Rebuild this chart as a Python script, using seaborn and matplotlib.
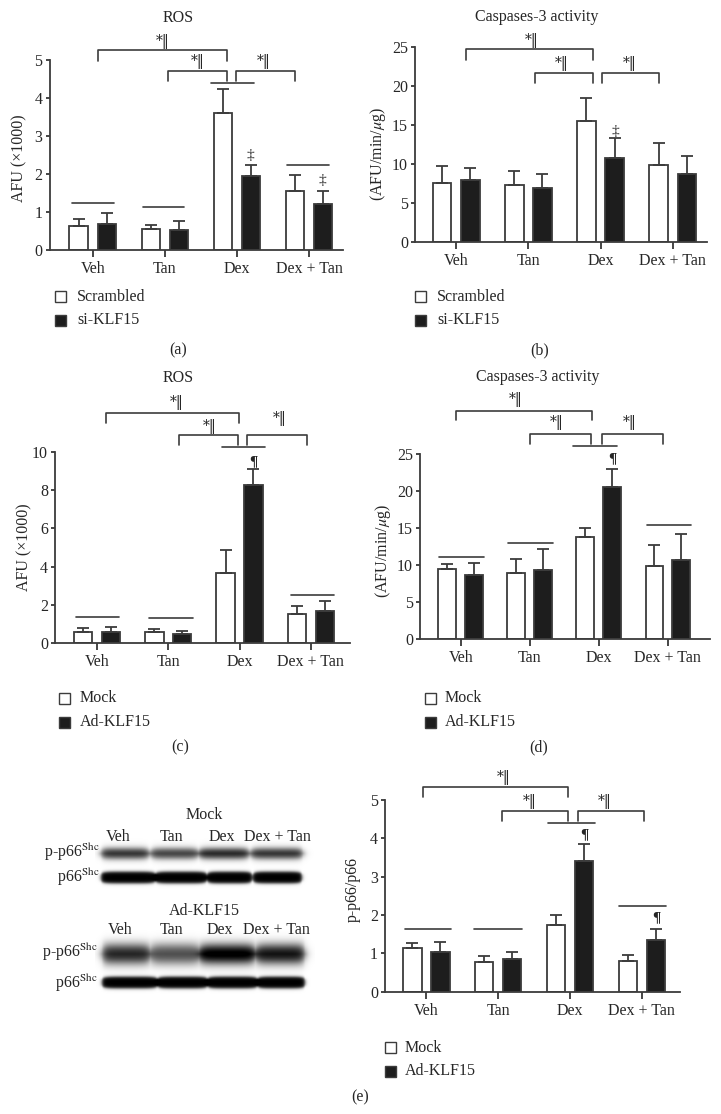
import numpy as np
import pandas as pd
import matplotlib
matplotlib.use("Agg")
import matplotlib.pyplot as plt
import seaborn as sns
from matplotlib.patches import Rectangle

# ---------------- data ----------------
categories = ["Veh", "Tan", "Dex", "Dex + Tan"]

# (a) ROS, siRNA experiment (AFU x1000)
a_scrambled = [0.63, 0.54, 3.60, 1.56]
a_scrambled_err = [0.19, 0.12, 0.64, 0.41]
a_siklf15 = [0.68, 0.53, 1.95, 1.21]
a_siklf15_err = [0.30, 0.24, 0.28, 0.34]

# (b) Caspase-3 activity, siRNA experiment
b_scrambled = [7.58, 7.28, 15.5, 9.84]
b_scrambled_err = [2.22, 1.88, 3.00, 2.89]
b_siklf15 = [8.00, 6.90, 10.73, 8.77]
b_siklf15_err = [1.45, 1.87, 2.64, 2.26]

# (c) ROS, overexpression experiment (AFU x1000)
c_mock = [0.57, 0.59, 3.69, 1.51]
c_mock_err = [0.21, 0.18, 1.18, 0.46]
c_adklf15 = [0.59, 0.49, 8.26, 1.69]
c_adklf15_err = [0.28, 0.15, 0.84, 0.51]

# (d) Caspase-3 activity, overexpression experiment
d_mock = [9.44, 8.90, 13.85, 9.89]
d_mock_err = [0.72, 1.98, 1.17, 2.83]
d_adklf15 = [8.63, 9.31, 20.6, 10.70]
d_adklf15_err = [1.62, 2.83, 2.42, 3.50]

# (e) p-p66/p66 ratio
e_mock = [1.13, 0.77, 1.73, 0.81]
e_mock_err = [0.13, 0.17, 0.27, 0.15]
e_adklf15 = [1.04, 0.85, 3.40, 1.34]
e_adklf15_err = [0.26, 0.18, 0.44, 0.29]

# western blot band intensities (0 = none, 1 = saturated)
blot_mock_pp66 = [0.85, 0.78, 0.90, 0.85]
blot_mock_p66 = [1.0, 1.0, 1.0, 1.0]
blot_ad_pp66 = [0.80, 0.62, 1.0, 0.88]
blot_ad_p66 = [1.0, 1.0, 1.0, 1.0]

# ---------------- style ----------------
sns.set_style("ticks")
plt.rcParams["font.family"] = ["Liberation Serif", "DejaVu Serif"]
plt.rcParams["mathtext.fontset"] = "stix"
INK = "#262626"
LINE = "#3c3c3c"
FS = 11.5

W, H = 721, 1114
fig = plt.figure(figsize=(W / 100, H / 100), dpi=100)


def px_axes(l, r, t, b):
    return fig.add_axes([l / W, 1 - b / H, (r - l) / W, (b - t) / H])


def ftext(x, y, s, **kw):
    kw.setdefault("ha", "center")
    kw.setdefault("va", "center")
    kw.setdefault("color", INK)
    kw.setdefault("fontsize", FS)
    return fig.text(x / W, 1 - y / H, s, **kw)


def legend_box(x, y, labels, tx):
    colors = ["white", "#1d1d1d"]
    s = 11
    for i, (lab, c) in enumerate(zip(labels, colors)):
        yy = y + i * 23.5
        fig.add_artist(Rectangle((x / W, 1 - (yy + s) / H), s / W, s / H,
                                 transform=fig.transFigure, facecolor=c,
                                 edgecolor=LINE, lw=1.0))
        ftext(tx, yy + s / 2, lab, ha="left")


def bar_panel(rect, xlim, ymax, yticks, s1, e1, s2, e2, names,
              title, title_xy, ylabel, ylabel_xy, leg_xy,
              group_lines, brackets, marks, mark_sym):
    ax = px_axes(*rect)
    df = pd.DataFrame({
        "group": categories * 2,
        "value": list(s1) + list(s2),
        "series": [names[0]] * 4 + [names[1]] * 4,
    })
    sns.barplot(data=df, x="group", y="value", hue="series", order=categories,
                hue_order=names, palette=["white", "#1d1d1d"], saturation=1,
                width=0.78, gap=0.34, errorbar=None, edgecolor=LINE,
                linewidth=1.3, legend=False, ax=ax)
    for cont, errs in zip(ax.containers, [e1, e2]):
        for bar, e in zip(cont, errs):
            xc = bar.get_x() + bar.get_width() / 2
            ax.errorbar(xc, bar.get_height(), yerr=[[0], [e]], fmt="none",
                        ecolor=LINE, elinewidth=1.3, capsize=4.5, capthick=1.3,
                        clip_on=False, zorder=3)
    ax.set_xlim(*xlim)
    ax.set_ylim(0, ymax)
    ax.set_yticks(yticks)
    ax.set_yticklabels([str(t) for t in yticks])
    ax.set_xlabel("")
    ax.set_ylabel("")
    for sp in ["top", "right"]:
        ax.spines[sp].set_visible(False)
    for sp in ["left", "bottom"]:
        ax.spines[sp].set_color(LINE)
        ax.spines[sp].set_linewidth(1.3)
    ax.tick_params(axis="y", direction="out", length=3, width=1.2, pad=2,
                   labelsize=FS, colors=INK)
    ax.tick_params(axis="x", direction="out", length=5, width=1.2, pad=3,
                   labelsize=FS, colors=INK)
    # group lines
    for x0, x1, y in group_lines:
        ax.plot([x0, x1], [y, y], color=LINE, lw=1.2, clip_on=False)
    # brackets with significance marks
    for x0, x1, yt, yb, tx, ty in brackets:
        ax.plot([x0, x0, x1, x1], [yb, yt, yt, yb], color=LINE, lw=1.2,
                clip_on=False)
        ax.text(tx, ty, "*\u2016", ha="center", va="center", fontsize=10,
                family=["DejaVu Serif"], color=INK, clip_on=False)
    for mx, my in marks:
        ax.text(mx, my, mark_sym, ha="center", va="center", fontsize=11,
                color=INK, clip_on=False,
                fontweight="bold" if mark_sym == "\u00b6" else "normal")
    if title:
        ftext(*title_xy, title)
    ftext(*ylabel_xy, ylabel, rotation=90)
    legend_box(leg_xy[0], leg_xy[1], names, leg_xy[2])
    return ax


# (a)
bar_panel((49.5, 343, 60, 250), (-0.60, 3.47), 5, [0, 1, 2, 3, 4, 5],
          a_scrambled, a_scrambled_err, a_siklf15, a_siklf15_err,
          ["Scrambled", "si-KLF15"], "ROS", (178, 18),
          "AFU (\u00d71000)", (19.5, 158), (55, 291, 77),
          [(-0.29, 0.30, 1.23), (0.69, 1.27, 1.14), (1.64, 2.24, 4.40),
           (2.69, 3.28, 2.25)],
          [(0.07, 1.86, 5.26, 4.98, 0.97, 5.48),
           (1.05, 1.86, 4.71, 4.45, 1.45, 4.96),
           (1.99, 2.81, 4.71, 4.45, 2.37, 4.96)],
          [(2.19, 2.49), (3.19, 1.84)], "\u2021")

# (b)
bar_panel((415, 706.7, 46.7, 242.3), (-0.57, 3.47), 25, [0, 5, 10, 15, 20, 25],
          b_scrambled, b_scrambled_err, b_siklf15, b_siklf15_err,
          ["Scrambled", "si-KLF15"], "Caspases-3 activity", (537, 17),
          "(AFU/min/$\\mu$g)", (377.5, 154), (415, 291, 437),
          [],
          [(0.14, 1.89, 24.66, 23.3, 1.05, 25.8),
           (1.09, 1.89, 21.6, 20.3, 1.46, 22.8),
           (2.02, 2.81, 21.6, 20.3, 2.41, 22.8)],
          [(2.2, 14.1)], "\u2021")

# (c)
bar_panel((55, 350, 451.7, 643.3), (-0.59, 3.55), 10, [0, 2, 4, 6, 8, 10],
          c_mock, c_mock_err, c_adklf15, c_adklf15_err,
          ["Mock", "Ad-KLF15"], "ROS", (178, 378),
          "AFU (\u00d71000)", (24, 547), (59, 693, 80),
          [(-0.29, 0.31, 1.36), (0.73, 1.34, 1.30), (1.76, 2.36, 10.26),
           (2.72, 3.33, 2.52)],
          [(0.13, 1.99, 12.03, 11.5, 1.12, 12.56),
           (1.15, 1.98, 10.87, 10.35, 1.58, 11.3),
           (2.11, 2.95, 10.87, 10.35, 2.57, 11.74)],
          [(2.2, 9.5)], "\u00b6")

# (d)
bar_panel((420, 710, 454, 639.3), (-0.59, 3.61), 25, [0, 5, 10, 15, 20, 25],
          d_mock, d_mock_err, d_adklf15, d_adklf15_err,
          ["Mock", "Ad-KLF15"], "Caspases-3 activity", (538, 377),
          "(AFU/min/$\\mu$g)", (383, 551), (425, 693, 445),
          [(-0.32, 0.34, 11.15), (0.68, 1.33, 13.04), (1.63, 2.27, 26.1),
           (2.70, 3.34, 15.42)],
          [(-0.07, 1.90, 30.85, 29.6, 0.80, 32.3),
           (1.0, 1.89, 27.7, 26.4, 1.39, 29.2),
           (2.04, 2.93, 27.7, 26.4, 2.45, 29.2)],
          [(2.2, 24.4)], "\u00b6")

# (e) quantification
bar_panel((385, 680, 800, 991.7), (-0.575, 3.53), 5, [0, 1, 2, 3, 4, 5],
          e_mock, e_mock_err, e_adklf15, e_adklf15_err,
          ["Mock", "Ad-KLF15"], "", (530, 780),
          "p-p66/p66", (352.5, 889), (385, 1042, 405),
          [(-0.30, 0.35, 1.63), (0.67, 1.33, 1.63), (1.69, 2.35, 4.39),
           (2.68, 3.34, 2.23)],
          [(-0.05, 1.97, 5.33, 5.07, 1.08, 5.58),
           (1.05, 1.97, 4.71, 4.45, 1.44, 4.96),
           (2.11, 3.03, 4.71, 4.45, 2.49, 4.96)],
          [(2.2, 4.09), (3.2, 1.94)], "\u00b6")

# ---------------- western blot (e, left) ----------------
bx0, bx1, by0, by1 = 95, 315, 835, 995
axb = px_axes(bx0, bx1, by0, by1)
xs = np.arange(bx0, bx1, 0.5) + 0.25
ys = np.arange(by0, by1, 0.5) + 0.25
X, Y = np.meshgrid(xs, ys)
img = np.zeros_like(X)


def sig(z):
    return 1.0 / (1.0 + np.exp(-z))


strips = [
    # yc, half, soft_y, soft_x, lanes, intensities, haze
    (853.5, 4.8, 1.8, 2.0, [(101, 149), (151, 198), (199, 249), (251, 303)], blot_mock_pp66, 0.0),
    (877.5, 5.8, 0.9, 1.0, [(101, 156), (155, 207), (207, 252), (253, 302)], blot_mock_p66, 0.0),
    (954.0, 8.0, 2.8, 2.4, [(102, 150), (151, 199), (199, 255), (256, 305)], blot_ad_pp66, 0.10),
    (982.5, 5.8, 0.9, 1.0, [(102, 158), (157, 208), (207, 258), (257, 305)], blot_ad_p66, 0.0),
]
for yc, half, sy, sx, lanes, inten, haze in strips:
    for (l, r), I in zip(lanes, inten):
        xc, hw = (l + r) / 2, (r - l) / 2
        taper = np.sqrt(np.clip(1 - np.abs((X - xc) / hw) ** 6, 0, 1))
        half_eff = half * (0.55 + 0.45 * taper)
        prof_y = sig((half_eff - np.abs(Y - yc)) / sy)
        prof_x = sig((X - l) / sx) * sig((r - X) / sx)
        img += I * prof_x * prof_y
    if haze > 0:
        hx = sig((X - lanes[0][0]) / 1.5) * sig((lanes[-1][1] - X) / 1.5)
        hy = sig((half + 6 - np.abs(Y - yc)) / 2.0)
        img += haze * hx * hy
img = np.clip(img, 0, 1)
axb.imshow(img, cmap="gray_r", vmin=0, vmax=1, extent=(bx0, bx1, by1, by0),
           aspect="auto", interpolation="bilinear")
axb.set_xlim(bx0, bx1)
axb.set_ylim(by1, by0)
axb.axis("off")

ftext(204, 815, "Mock")
for x, lab in zip([118, 172, 222, 277], categories):
    ftext(x, 837, lab)
ftext(100, 852, "p-p66$^{\\mathrm{Shc}}$", ha="right")
ftext(100, 877, "p66$^{\\mathrm{Shc}}$", ha="right")
ftext(204, 911, "Ad-KLF15")
for x, lab in zip([120, 172, 220, 276], categories):
    ftext(x, 930, lab)
ftext(98, 952, "p-p66$^{\\mathrm{Shc}}$", ha="right")
ftext(98, 983, "p66$^{\\mathrm{Shc}}$", ha="right")

# panel labels
ftext(178, 350, "(a)")
ftext(540, 350, "(b)")
ftext(180, 747, "(c)")
ftext(539, 747, "(d)")
ftext(360, 1097, "(e)")

fig.savefig("out.png", dpi=100, facecolor="white")
